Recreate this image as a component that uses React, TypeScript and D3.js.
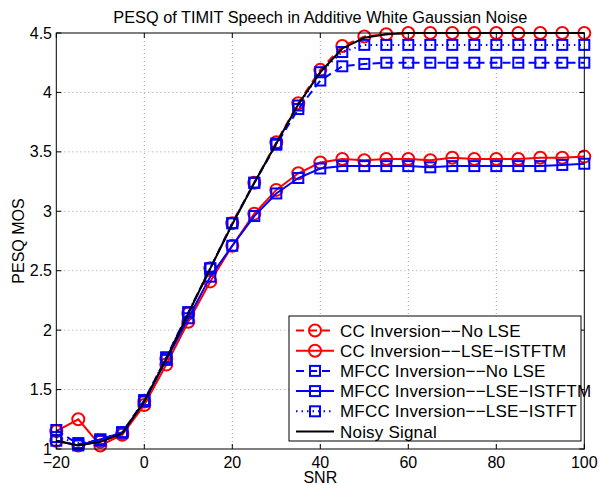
import React from "react";
import * as d3 from "d3";

// SNR values (dB)
const snr = [-20, -15, -10, -5, 0, 5, 10, 15, 20, 25, 30, 35, 40, 45, 50, 55, 60, 65, 70, 75, 80, 85, 90, 95, 100];

const ccNoLse = [1.07, 1.03, 1.06, 1.13, 1.40, 1.76, 2.14, 2.52, 2.90, 3.24, 3.58, 3.91, 4.19, 4.39, 4.47, 4.49, 4.50, 4.50, 4.50, 4.50, 4.50, 4.50, 4.50, 4.50, 4.50];
const ccIstftm = [1.15, 1.25, 1.03, 1.12, 1.37, 1.71, 2.07, 2.41, 2.71, 2.98, 3.18, 3.32, 3.41, 3.44, 3.43, 3.44, 3.44, 3.43, 3.45, 3.44, 3.44, 3.44, 3.45, 3.45, 3.46];
const mfccNoLse = [1.16, 1.04, 1.08, 1.14, 1.41, 1.77, 2.15, 2.52, 2.90, 3.24, 3.56, 3.86, 4.10, 4.22, 4.24, 4.25, 4.25, 4.25, 4.25, 4.25, 4.25, 4.25, 4.25, 4.25, 4.25];
const mfccIstftm = [1.07, 1.03, 1.08, 1.14, 1.40, 1.75, 2.10, 2.45, 2.71, 2.96, 3.15, 3.28, 3.36, 3.38, 3.38, 3.38, 3.38, 3.37, 3.38, 3.38, 3.38, 3.38, 3.38, 3.39, 3.40];
const mfccIstft = [1.10, 1.05, 1.07, 1.14, 1.41, 1.77, 2.15, 2.52, 2.90, 3.24, 3.57, 3.89, 4.17, 4.34, 4.40, 4.40, 4.40, 4.40, 4.40, 4.40, 4.40, 4.40, 4.40, 4.40, 4.40];
const noisy = [1.07, 1.03, 1.06, 1.13, 1.40, 1.76, 2.14, 2.52, 2.89, 3.24, 3.57, 3.90, 4.17, 4.37, 4.46, 4.49, 4.50, 4.50, 4.50, 4.50, 4.50, 4.50, 4.50, 4.50, 4.50];

const xTicks = [-20, 0, 20, 40, 60, 80, 100];
const yTicks = [1, 1.5, 2, 2.5, 3, 3.5, 4, 4.5];

type Serie = { name: string; values: number[]; color: string; dash: string; marker: "circle" | "square" | "none" };

const series: Serie[] = [
  { name: "CC Inversion\u2212\u2212No LSE", values: ccNoLse, color: "#ff0000", dash: "8,5", marker: "circle" },
  { name: "CC Inversion\u2212\u2212LSE\u2212ISTFTM", values: ccIstftm, color: "#ff0000", dash: "", marker: "circle" },
  { name: "MFCC Inversion\u2212\u2212No LSE", values: mfccNoLse, color: "#0000ff", dash: "8,5", marker: "square" },
  { name: "MFCC Inversion\u2212\u2212LSE\u2212ISTFTM", values: mfccIstftm, color: "#0000ff", dash: "", marker: "square" },
  { name: "MFCC Inversion\u2212\u2212LSE\u2212ISTFT", values: mfccIstft, color: "#0000ff", dash: "1.5,4", marker: "square" },
  { name: "Noisy Signal", values: noisy, color: "#000000", dash: "", marker: "none" },
];

const W = 601;
const H = 485;
const m = { left: 56.3, right: 584.3, top: 33, bottom: 449 };
const font = "'Liberation Sans', Arial, Helvetica, sans-serif";

const Marker = ({ type, x, y, color }: { type: string; x: number; y: number; color: string }) => {
  if (type === "circle")
    return <circle cx={x} cy={y} r={6} fill="none" stroke={color} strokeWidth={2} />;
  if (type === "square")
    return <rect x={x - 5} y={y - 5} width={10} height={10} fill="none" stroke={color} strokeWidth={2} />;
  return null;
};

export default function App() {
  const x = d3.scaleLinear().domain([-20, 100]).range([m.left, m.right]);
  const y = d3.scaleLinear().domain([1, 4.5]).range([m.bottom, m.top]);
  const line = d3
    .line<number>()
    .x((_, i) => x(snr[i]))
    .y((d) => y(d));

  const tl = 5;
  const legend = { x: 289, y: 316, w: 292, h: 125, row: 20.2 };

  return (
    <svg width={W} height={H} style={{ position: "absolute", left: 0, top: 0, background: "#fff" }} fontFamily={font}>
      <defs>
        <clipPath id="plotClip">
          <rect x={m.left - 8} y={m.top - 8} width={m.right - m.left + 16} height={m.bottom - m.top + 16} />
        </clipPath>
      </defs>
      {/* grid */}
      {xTicks.slice(1, -1).map((t) => (
        <line key={"gx" + t} x1={x(t)} x2={x(t)} y1={m.top} y2={m.bottom} stroke="#a0a0a0" strokeWidth={1} strokeDasharray="1,3" />
      ))}
      {yTicks.slice(1, -1).map((t) => (
        <line key={"gy" + t} x1={m.left} x2={m.right} y1={y(t)} y2={y(t)} stroke="#a0a0a0" strokeWidth={1} strokeDasharray="1,3" />
      ))}

      {/* series */}
      <g clipPath="url(#plotClip)">
        {series.map((s) => (
          <g key={s.name}>
            <path d={line(s.values) ?? ""} fill="none" stroke={s.color} strokeWidth={2} strokeDasharray={s.dash || undefined} />
            {s.values.map((v, i) => (
              <Marker key={i} type={s.marker} x={x(snr[i])} y={y(v)} color={s.color} />
            ))}
          </g>
        ))}
      </g>

      {/* box and ticks */}
      <rect x={m.left} y={m.top} width={m.right - m.left} height={m.bottom - m.top} fill="none" stroke="#000" strokeWidth={1} />
      {xTicks.map((t) => (
        <g key={"xt" + t}>
          <line x1={x(t)} x2={x(t)} y1={m.bottom} y2={m.bottom - tl} stroke="#000" />
          <line x1={x(t)} x2={x(t)} y1={m.top} y2={m.top + tl} stroke="#000" />
          <text x={x(t)} y={468} fontSize={16} textAnchor="middle">
            {t < 0 ? "\u2212" + Math.abs(t) : t}
          </text>
        </g>
      ))}
      {yTicks.map((t) => (
        <g key={"yt" + t}>
          <line x1={m.left} x2={m.left + tl} y1={y(t)} y2={y(t)} stroke="#000" />
          <line x1={m.right} x2={m.right - tl} y1={y(t)} y2={y(t)} stroke="#000" />
          <text x={52} y={y(t)} dy="0.35em" fontSize={16} textAnchor="end">
            {t}
          </text>
        </g>
      ))}

      {/* labels */}
      <text x={(m.left + m.right) / 2} y={23} fontSize={16.3} textAnchor="middle">
        PESQ of TIMIT Speech in Additive White Gaussian Noise
      </text>
      <text x={(m.left + m.right) / 2} y={483} fontSize={16} textAnchor="middle">
        SNR
      </text>
      <text transform={`translate(24,${(m.top + m.bottom) / 2}) rotate(-90)`} fontSize={16} textAnchor="middle">
        PESQ MOS
      </text>

      {/* legend */}
      <rect x={legend.x} y={legend.y} width={legend.w} height={legend.h} fill="#fff" stroke="#000" strokeWidth={1} />
      {series.map((s, i) => {
        const cy = legend.y + 14.5 + i * legend.row;
        return (
          <g key={"lg" + i}>
            <line x1={legend.x + 7} x2={legend.x + 45} y1={cy} y2={cy} stroke={s.color} strokeWidth={2} strokeDasharray={s.dash || undefined} />
            <Marker type={s.marker} x={legend.x + 26} y={cy} color={s.color} />
            <text x={legend.x + 51} y={cy} dy="0.36em" fontSize={17} letterSpacing={0.2}>
              {s.name}
            </text>
          </g>
        );
      })}
    </svg>
  );
}
